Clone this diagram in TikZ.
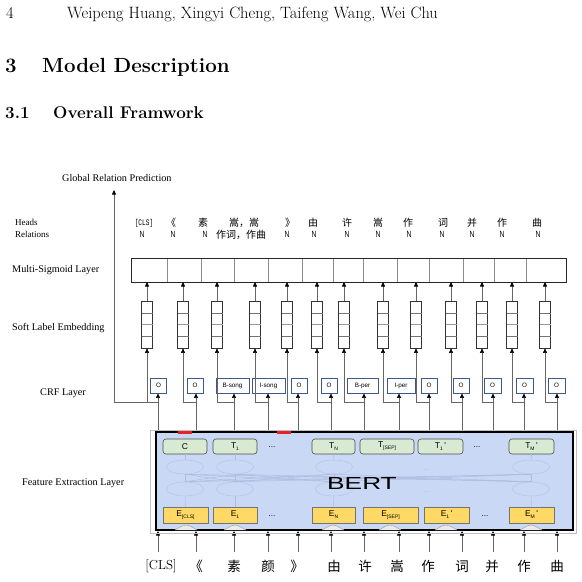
\documentclass[tikz,border=0pt]{standalone}
\usepackage{fontspec}
\usepackage{graphicx}
\usetikzlibrary{arrows.meta,shapes.geometric}
\newfontfamily\lserif{Liberation Serif}
\newfontfamily\lsans{Liberation Sans}
\newfontfamily\lmono{Liberation Mono}
\newfontfamily\cjk{Noto Sans CJK SC}
\definecolor{bertblue}{HTML}{C9D9F5}
\definecolor{tgreen}{HTML}{D9EAD3}
\definecolor{eyellow}{HTML}{FFD966}
\definecolor{crfblue}{HTML}{3D5A8F}
\definecolor{ellc}{HTML}{B3C3E6}
\definecolor{faint}{HTML}{AEBDDF}
\definecolor{redbar}{HTML}{E8202A}
\newcommand\sbs[1]{\raisebox{-0.45ex}{\fontsize{5}{5}\selectfont #1}}
\begin{document}
\begin{tikzpicture}[x=1pt,y=-1pt,
  ln/.style={draw=black!60, line width=0.6pt},
  arr/.style={ln, -{Triangle[length=4.5pt,width=4pt,color=black]}},
  lab/.style={font=\lserif\fontsize{10.2}{12}\selectfont, anchor=base west, inner sep=0},
  labs/.style={font=\lserif\fontsize{9}{11}\selectfont, anchor=base west, inner sep=0},
  crfbox/.style={draw=crfblue, line width=0.8pt, minimum height=15, inner sep=0, font=\lsans\fontsize{6.3}{7}\selectfont},
  embbox/.style={draw=black!80, line width=0.7pt, minimum width=11, minimum height=47, inner sep=0},
  tnode/.style={draw=black!70, fill=tgreen, rounded corners=3pt, minimum height=15, inner sep=0, font=\lsans\fontsize{8.5}{9}\selectfont, line width=0.6pt},
  enode/.style={draw=black!55, fill=eyellow, minimum height=16, inner sep=0, font=\lsans\fontsize{8.5}{9}\selectfont, line width=0.6pt},
  ell/.style={ellipse, draw=ellc, minimum width=37, minimum height=14, inner sep=0, line width=0.5pt},
  fl/.style={draw=faint, line width=0.5pt},
  hd/.style={font=\cjk\fontsize{10}{10}\selectfont, anchor=base, inner sep=0},
  hm/.style={font=\lmono\fontsize{8.5}{9}\selectfont, anchor=base, inner sep=0},
  hn/.style={font=\lsans\fontsize{9}{9}\selectfont, anchor=base, inner sep=0},
  tk/.style={font=\cjk\fontsize{13.5}{14}\selectfont, anchor=base, inner sep=0},
  dots/.style={font=\lsans\fontsize{8}{9}\selectfont, inner sep=0}
]
\useasboundingbox (0,0) rectangle (582,582);

% header
\node[anchor=base west, inner sep=0, font=\fontsize{16.4}{18}\selectfont] (pnum) at (6,18) {4};
\node[anchor=base west, inner sep=0, font=\fontsize{16.4}{18}\selectfont] (auth) at (67,18) {Weipeng Huang, Xingyi Cheng, Taifeng Wang, Wei Chu};
\node[anchor=base west, inner sep=0, font=\bfseries\fontsize{20.5}{24}\selectfont] (secn) at (5,72) {3};
\node[anchor=base west, inner sep=0, font=\bfseries\fontsize{20.5}{24}\selectfont] (sect) at (42,72) {Model Description};
\node[anchor=base west, inner sep=0, font=\bfseries\fontsize{17}{20}\selectfont] (ssn) at (5,118) {3.1};
\node[anchor=base west, inner sep=0, font=\bfseries\fontsize{17}{20}\selectfont] (sst) at (53,118) {Overall Framwork};

% left labels
\node[lab] (lglob) at (62,181) {Global Relation Prediction};
\node[labs] (lheads) at (15,225) {Heads};
\node[labs] (lrel) at (15,237) {Relations};
\node[lab] (lsig) at (12,272) {Multi-Sigmoid Layer};
\node[lab] (lemb) at (12,330) {Soft Label Embedding};
\node[lab] (lcrf) at (40,395) {CRF Layer};
\node[lab] (lfeat) at (22,485) {Feature Extraction Layer};

% heads row
\node[hm] (h1) at (144,225.5) {\scalebox{0.72}[1]{[CLS]}};
\node[hd] (h2) at (171,226) {《};
\node[hd] (h3) at (203,226) {素};
\node[hd] (h4) at (244,226) {嵩，嵩};
\node[hd] (h5) at (290,226) {》};
\node[hd] (h6) at (313,226) {由};
\node[hd] (h7) at (347,226) {许};
\node[hd] (h8) at (378,226) {嵩};
\node[hd] (h9) at (408,226) {作};
\node[hd] (h10) at (443,226) {词};
\node[hd] (h11) at (472,226) {并};
\node[hd] (h12) at (502,226) {作};
\node[hd] (h13) at (537,226) {曲};
% relations row
\foreach \i/\x in {1/142,2/173,3/205,5/287,6/314,7/347,8/378,9/409,10/442,11/472,12/502,13/538}
  \node[hn] (r\i) at (\x,237.5) {\scalebox{0.75}[1]{N}};
\node[hd] (r4) at (241,238) {作词，作曲};

% multi-sigmoid layer
\foreach \d in {167,201,234,268,302,333,363,397,429,463,494,526}
  \draw[black!45, line width=0.6pt] (\d,258) -- (\d,282);
\node[draw=black!85, line width=0.8pt, minimum width=435, minimum height=24, inner sep=0] (sig) at (348.5,270) {};

% columns
\foreach \i/\xb/\xa in {1/158/147, 2/196/183, 3/234/217, 4/268/255, 5/298/287, 6/331/317, 7/364/344, 8/399/383, 9/429/416, 10/462/451, 11/493/482, 12/524/512, 13/557/545} {
  \coordinate (bt\i) at (\xb,432);
  \coordinate (br\i) at (\xb,402);
  \coordinate (ba\i) at (\xa,402);
  \coordinate (sg\i) at (\xa,282);
  \coordinate (bi\i) at (\xb,552);
  \coordinate (bo\i) at (\xb,531);
  \node[embbox] (emb\i) at (\xa,324.5) {};
  \draw[black!55, line width=0.5pt] ({\xa-5.5},313) -- ({\xa+5.5},313);
  \draw[black!40, line width=0.5pt] ({\xa-5.5},324.5) -- ({\xa+5.5},324.5);
  \draw[black!55, line width=0.5pt] ({\xa-5.5},336) -- ({\xa+5.5},336);
}

% CRF boxes
\foreach \i/\cx/\w/\t in {1/158.5/16/O, 2/195/16/O, 3/232.5/33/B-song, 4/268.5/33/I-song, 5/299/16/O, 6/329/16/O, 7/362.5/31/B-per, 8/401/28/I-per, 9/429/16/O, 10/461/16/O, 11/492.5/17/O, 12/524.5/17/O, 13/556.5/17/O}
  \node[crfbox, minimum width=\w] (crf\i) at (\cx,385.5) {\t};

% connectors
\foreach \i in {1,...,13} {
  \draw[ln] (bt\i) -- (br\i);
  \draw[arr] (br\i) -- (br\i |- crf\i.south);
  \draw[ln] (br\i) -- (ba\i);
  \draw[arr] (ba\i) -- (ba\i |- emb\i.south);
  \draw[arr] (emb\i.north) -- (sg\i);
  \draw[arr] (bi\i) -- (bo\i);
}
\coordinate (gl) at (114,402);
\coordinate (gt) at (114,190);
\draw[ln] (ba1) -- (gl);
\draw[arr] (gl) -- (gt);

% BERT block
\draw[black!25, line width=0.6pt] (150,430) rectangle (576,533);
\fill[bertblue] (156,432) rectangle (573,530);

% faint inner network
\foreach \j/\x in {1/185,2/235,3/334,4/531} {
  \node[ell] (u\j) at (\x,467) {};
  \node[ell] (l\j) at (\x,489) {};
}
\foreach \a in {1,...,4}
  \foreach \b in {1,...,4}
    \draw[fl] (l\a.north) -- (u\b.south);
\node[dots, text=faint] (fd1) at (427,470) {...};
\node[dots, text=faint] (fd2) at (427,492) {...};

% top (output) nodes
\node[tnode, minimum width=44] (tc) at (185,446.5) {C};
\node[tnode, minimum width=44] (tt1) at (235,446.5) {T\sbs{1}};
\node[dots] (td1) at (272,447) {...};
\node[tnode, minimum width=43] (ttn) at (333.5,446.5) {T\sbs{N}};
\node[tnode, minimum width=54] (tsep) at (387,446.5) {T\sbs{[SEP]}};
\node[tnode, minimum width=45] (tt1p) at (440.5,446.5) {T\sbs{1}\,'};
\node[dots] (td2) at (477,447) {...};
\node[tnode, minimum width=45] (ttm) at (531.5,446.5) {T\sbs{M}\,'};

% bottom (embedding) nodes
\node[enode, minimum width=45] (ecls) at (185.5,515) {E\sbs{[CLS]}};
\node[enode, minimum width=44] (ee1) at (235,515) {E\sbs{1}};
\node[dots] (ed1) at (272,516) {...};
\node[enode, minimum width=43] (een) at (333.5,515) {E\sbs{N}};
\node[enode, minimum width=55] (esep) at (390.5,515) {E\sbs{[SEP]}};
\node[enode, minimum width=45] (ee1p) at (446.5,515) {E\sbs{1}\,'};
\node[dots] (ed2) at (485,516) {...};
\node[enode, minimum width=45] (eem) at (531.5,515) {E\sbs{M}\,'};

\foreach \a/\t/\e in {1/tc/ecls,2/tt1/ee1,3/ttn/een,4/ttm/eem} {
  \draw[fl] (\e.north) -- (l\a.south);
  \draw[fl] (u\a.north) -- (\t.south);
}

% frame, red marks, chevrons
\draw[black, line width=1.8pt] (156,432) rectangle (573,530);
\fill[redbar] (178,431) rectangle (192,434);
\fill[redbar] (277,431) rectangle (291,434);
\foreach \c in {186,235,333,390,446,531}
  \draw[black!35, fill=black!8, line width=0.5pt] ({\c-11},530) -- ({\c-4},526) -- (\c,525) -- ({\c+4},526) -- ({\c+11},530);

\node[font=\lsans\fontsize{17.5}{17}\selectfont, inner sep=0] (bert) at (362,483.5) {\scalebox{1.5}[1]{BERT}};

% input tokens
\node[anchor=base, inner sep=0, font=\fontsize{13}{14}\selectfont] (k1) at (161,569.5) {[CLS]};
\foreach \i/\x/\t in {2/196/《, 3/234/素, 4/268/颜, 5/297/》, 6/334/由, 7/365/许, 8/397/嵩, 9/428/作, 10/462/词, 11/492/并, 12/524/作, 13/557/曲}
  \node[tk] (k\i) at (\x,571) {\t};
\end{tikzpicture}
\end{document}
